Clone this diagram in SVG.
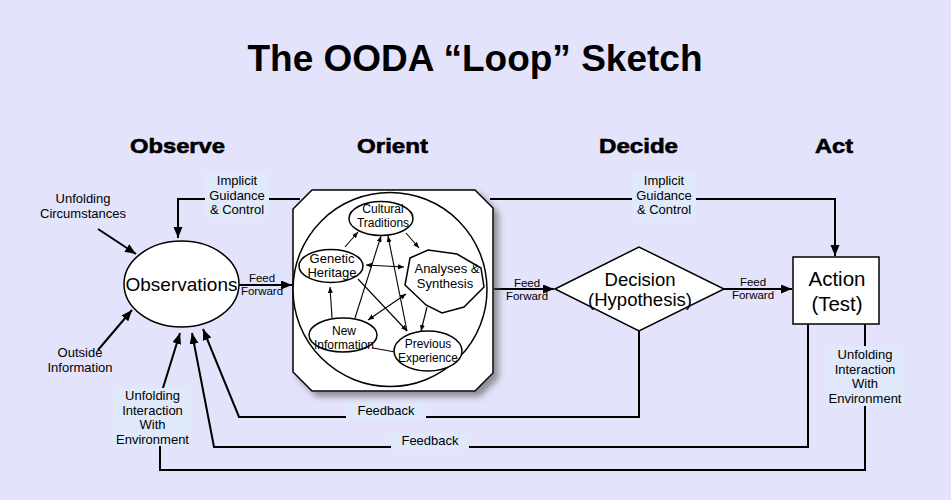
<svg xmlns="http://www.w3.org/2000/svg" width="951" height="500" viewBox="0 0 951 500">
<defs>
<style>
text{font-family:"Liberation Sans",Arial,sans-serif;fill:#000;text-anchor:middle}
.title{font-size:37px;font-weight:bold}
.phase{font-family:"Liberation Sans Narrow","Liberation Sans",Arial,sans-serif;font-size:21px;font-weight:bold;stroke:#000;stroke-width:0.6}
.lbl{font-size:13px}
.ff{font-size:11.5px}
.in{font-size:12px}
.in13{font-size:13px}
.big{font-size:19px}
.conn{fill:none;stroke:#000;stroke-width:2}
.thin{fill:none;stroke:#000;stroke-width:1.1}
.node{fill:#fff;stroke:#000;stroke-width:1.5}
.box{fill:#dfe9fa;stroke:none}
</style>
<marker id="ah" markerUnits="userSpaceOnUse" markerWidth="12" markerHeight="10" refX="11" refY="4.5" orient="auto">
<path d="M0,0 L11,4.5 L0,9 z" fill="#000"/>
</marker>
<marker id="sh" markerUnits="userSpaceOnUse" markerWidth="7" markerHeight="6" refX="6" refY="2.5" orient="auto-start-reverse">
<path d="M0,0 L6,2.5 L0,5 z" fill="#000"/>
</marker>
<filter id="shadow" x="-10%" y="-10%" width="130%" height="130%">
<feDropShadow dx="5" dy="5" stdDeviation="3" flood-color="#555" flood-opacity="0.6"/>
</filter>
</defs>
<rect width="951" height="500" fill="#e3e3fb"/>
<text class="title" x="475" y="71">The OODA “Loop” Sketch</text>
<g id="phases">
<text class="phase" x="177.5" y="153" textLength="95" lengthAdjust="spacingAndGlyphs">Observe</text>
<text class="phase" x="392.5" y="153" textLength="71" lengthAdjust="spacingAndGlyphs">Orient</text>
<text class="phase" x="638.5" y="153" textLength="79" lengthAdjust="spacingAndGlyphs">Decide</text>
<text class="phase" x="834" y="153" textLength="38" lengthAdjust="spacingAndGlyphs">Act</text>
</g>
<g id="connectors">
<path class="conn" d="M300,199 H178 V238" marker-end="url(#ah)"/>
<path class="conn" d="M490,199 H835 V256" marker-end="url(#ah)"/>
<path class="conn" d="M239,285 H292" marker-end="url(#ah)"/>
<path class="conn" d="M494,289 H554" marker-end="url(#ah)"/>
<path class="conn" d="M724,289 H792" marker-end="url(#ah)"/>
<path class="conn" d="M98,229 L136,254" marker-end="url(#ah)"/>
<path class="conn" d="M98,350 L132,310" marker-end="url(#ah)"/>
<path class="conn" d="M639,331 V417 H239 L203,329" marker-end="url(#ah)"/>
<path class="conn" d="M808,324 V447 H214 L192,333" marker-end="url(#ah)"/>
<path class="conn" d="M865,324 V470 H160 V446 L163,388 L180,333" marker-end="url(#ah)"/>
</g>
<g id="labels">
<rect class="box" x="205" y="173" width="64" height="44"/>
<text class="lbl" x="237" y="185">Implicit</text>
<text class="lbl" x="237" y="199.5">Guidance</text>
<text class="lbl" x="237" y="214">&amp; Control</text>
<rect class="box" x="632" y="173" width="64" height="44"/>
<text class="lbl" x="664" y="185">Implicit</text>
<text class="lbl" x="664" y="199.5">Guidance</text>
<text class="lbl" x="664" y="214">&amp; Control</text>
<text class="ff" x="262" y="282">Feed</text>
<text class="ff" x="262" y="294.5">Forward</text>
<text class="ff" x="527" y="287">Feed</text>
<text class="ff" x="527" y="299.5">Forward</text>
<text class="ff" x="753" y="286">Feed</text>
<text class="ff" x="753" y="298.5">Forward</text>
<text class="lbl" x="83" y="203">Unfolding</text>
<text class="lbl" x="83" y="218">Circumstances</text>
<text class="lbl" x="80" y="357">Outside</text>
<text class="lbl" x="80" y="372">Information</text>
<rect class="box" x="346" y="403" width="80" height="16"/>
<text class="lbl" x="386" y="415">Feedback</text>
<rect class="box" x="391" y="434" width="78" height="15"/>
<text class="lbl" x="430" y="445">Feedback</text>
<rect class="box" x="114" y="388" width="77" height="58"/>
<text class="lbl" x="152.5" y="400">Unfolding</text>
<text class="lbl" x="152.5" y="414.5">Interaction</text>
<text class="lbl" x="152.5" y="429">With</text>
<text class="lbl" x="152.5" y="443.5">Environment</text>
<rect class="box" x="826" y="346" width="78" height="60"/>
<text class="lbl" x="865" y="359">Unfolding</text>
<text class="lbl" x="865" y="373.5">Interaction</text>
<text class="lbl" x="865" y="388">With</text>
<text class="lbl" x="865" y="402.5">Environment</text>
</g>
<g id="observations">
<ellipse class="node" cx="181.5" cy="284" rx="57.5" ry="43"/>
<text class="big" x="181.5" y="291">Observations</text>
</g>
<g id="orient">
<polygon class="node" filter="url(#shadow)" points="312,190 475,190 493,208 493,373 475,391 312,391 293,372 293,209"/>
<ellipse class="node" cx="390" cy="289.5" rx="97" ry="97"/>
</g>
<g id="inner-connectors">
<path class="thin" d="M345,247 L358,232" marker-end="url(#sh)"/>
<path class="thin" d="M406,233 L419,248" marker-end="url(#sh)"/>
<path class="thin" d="M366,265 L404,267" marker-start="url(#sh)" marker-end="url(#sh)"/>
<path class="thin" d="M332,318 L330,287" marker-end="url(#sh)"/>
<path class="thin" d="M355,318 L381,236" marker-end="url(#sh)"/>
<path class="thin" d="M407,331 L388,236" marker-end="url(#sh)"/>
<path class="thin" d="M358,279 L407,331" marker-end="url(#sh)"/>
<path class="thin" d="M368,320 L406,294" marker-start="url(#sh)" marker-end="url(#sh)"/>
<path class="thin" d="M427,307 L421,331" marker-end="url(#sh)"/>
<path class="thin" d="M373,348 L395,352"/>
</g>
<g id="cultural">
<ellipse class="node" cx="381" cy="218.5" rx="32" ry="17"/>
<text class="in" x="383" y="213">Cultural</text>
<text class="in" x="383" y="226.5">Traditions</text>
</g>
<g id="genetic">
<ellipse class="node" cx="331" cy="266" rx="32" ry="16.5"/>
<text class="in13" x="332" y="263">Genetic</text>
<text class="in13" x="332" y="277">Heritage</text>
</g>
<g id="analyses">
<polygon class="node" points="410,258 428,250 457,254 481,268 484,287 464,307 442,313 426,305 405,285"/>
<text class="in13" x="447" y="273">Analyses &amp;</text>
<text class="in13" x="445" y="288">Synthesis</text>
</g>
<g id="newinfo">
<ellipse class="node" cx="343" cy="335" rx="34" ry="17"/>
<text class="in" x="344" y="335">New</text>
<text class="in" x="344" y="349">Information</text>
</g>
<g id="previous">
<ellipse class="node" cx="428" cy="351" rx="34" ry="20"/>
<text class="in" x="428" y="348">Previous</text>
<text class="in" x="428" y="362">Experience</text>
</g>
<g id="decision">
<polygon class="node" points="555,289 639,247 724,289 639,331"/>
<text class="big" style="font-size:18.5px" x="640" y="285.5">Decision</text>
<text class="big" style="font-size:18.5px" x="640" y="306">(Hypothesis)</text>
</g>
<g id="action">
<rect class="node" x="793" y="257" width="86" height="67"/>
<text class="big" style="font-size:20.5px" x="837" y="286">Action</text>
<text class="big" style="font-size:20.5px" x="837" y="311">(Test)</text>
</g>
</svg>
